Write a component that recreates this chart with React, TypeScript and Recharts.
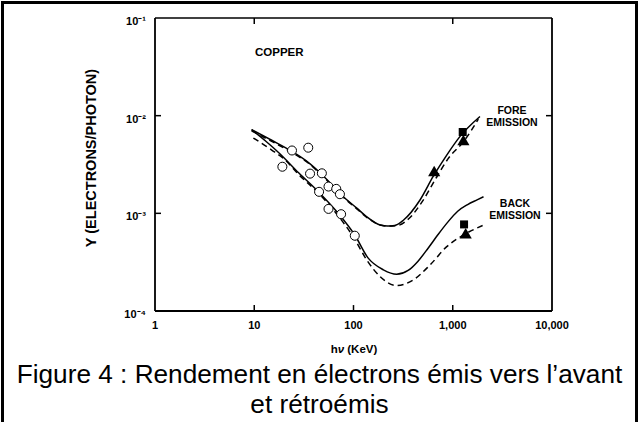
import React from 'react'
import { ComposedChart, Line, Scatter, XAxis, YAxis, ReferenceLine } from 'recharts'

const xTicks = [1, 10, 100, 1000, 10000]
const xTickLabels = ['1', '10', '100', '1,000', '10,000']
const yTicks = [1e-4, 1e-3, 1e-2, 1e-1]
const yTickLabels = ['10⁻⁴', '10⁻³', '10⁻²', '10⁻¹']
const innerXTicks = [10, 100, 1000]
const innerYTicks = [1e-3, 1e-2]
const topTickKeV = [10, 1000]

// fore emission, solid and dashed curves
const foreSolidKeV = [9.4, 15, 24, 36, 50, 79, 108, 136, 185, 220, 260, 318, 468, 637, 870, 1180, 1880]
const foreSolidY = [7.2e-3, 5.6e-3, 4.3e-3, 3.25e-3, 2.4e-3, 1.48e-3, 1.13e-3, 9.2e-4, 7.6e-4, 7.4e-4, 7.5e-4, 8.5e-4, 1.37e-3, 2.4e-3, 3.95e-3, 6.1e-3, 9.8e-3]
const foreDashKeV = [9.4, 15, 24, 36, 50, 79, 108, 136, 185, 230, 290, 360, 500, 680, 920, 1280, 1810]
const foreDashY = [7.0e-3, 5.45e-3, 4.2e-3, 3.2e-3, 2.35e-3, 1.46e-3, 1.11e-3, 9.1e-4, 7.6e-4, 7.4e-4, 7.6e-4, 8.8e-4, 1.35e-3, 2.3e-3, 3.75e-3, 5.4e-3, 9.2e-3]

// back emission, solid and dashed curves
const backSolidKeV = [9.4, 13, 18, 28, 46, 68, 103, 140, 200, 272, 355, 447, 562, 708, 891, 1122, 1413, 1778, 2042]
const backSolidY = [7.2e-3, 5.5e-3, 4.1e-3, 2.6e-3, 1.6e-3, 1.04e-3, 6.0e-4, 3.5e-4, 2.64e-4, 2.38e-4, 2.6e-4, 3.24e-4, 4.37e-4, 6.03e-4, 8.13e-4, 1.05e-3, 1.23e-3, 1.38e-3, 1.48e-3]
const backDashKeV = [9.8, 15, 20, 28, 46, 68, 100, 136, 185, 272, 400, 590, 870, 1280, 2000]
const backDashY = [5.9e-3, 4.45e-3, 3.6e-3, 2.5e-3, 1.55e-3, 9.8e-4, 5.7e-4, 3.33e-4, 2.25e-4, 1.82e-4, 2.08e-4, 2.96e-4, 4.56e-4, 6.0e-4, 7.5e-4]

// measured points
const circleKeV = [19.2, 24, 35, 36.5, 45, 48, 56, 56, 67, 73, 75, 103]
const circleY = [3.0e-3, 4.4e-3, 4.7e-3, 2.55e-3, 1.66e-3, 2.57e-3, 1.88e-3, 1.11e-3, 1.78e-3, 1.57e-3, 9.8e-4, 5.9e-4]
const squareKeV = [1260, 1300]
const squareY = [6.8e-3, 7.7e-4]
const triangleKeV = [650, 1280, 1350]
const triangleY = [2.6e-3, 5.4e-3, 6.0e-4]

const pts = (xs: number[], ys: number[]) => xs.map((x, i) => ({ x, y: ys[i] }))

const FONT = '"Liberation Sans", Arial, sans-serif'
const INK = 'black'
const TICK = 1.15 // inner tick length as a factor on the log axes, about 6px

const tickStyle = { fontFamily: FONT, fontWeight: 'bold', fontSize: 11, fill: INK }

export default function App() {
  return (
    <div style={{ position: 'absolute', left: 0, top: 0, width: 639, height: 422, background: '#fff' }}>
      <ComposedChart width={639} height={422} margin={{ top: 18, right: 87, bottom: 81, left: 115 }}>
        <XAxis dataKey="x" type="number" scale="log" domain={[1, 10000]} allowDataOverflow ticks={xTicks}
          height={30} tickLine={false} tickMargin={4} tick={tickStyle}
          tickFormatter={(v: number, i: number) => xTickLabels[i]}
          axisLine={{ stroke: INK, strokeWidth: 1.8 }} />
        <YAxis dataKey="y" type="number" scale="log" domain={[1e-4, 1e-1]} allowDataOverflow ticks={yTicks}
          width={40} tickLine={false} tickMargin={3} tick={{ ...tickStyle, dy: 3 }}
          tickFormatter={(v: number, i: number) => yTickLabels[i]}
          axisLine={{ stroke: INK, strokeWidth: 1.8 }} />
        <ReferenceLine y={1e-1} stroke={INK} strokeWidth={1.5} />
        <ReferenceLine x={10000} stroke={INK} strokeWidth={1.8} />
        {innerXTicks.map(k => (
          <ReferenceLine key={'b' + k} segment={[{ x: k, y: 1e-4 }, { x: k, y: 1e-4 * TICK }]} stroke={INK} strokeWidth={1.5} />
        ))}
        {topTickKeV.map(k => (
          <ReferenceLine key={'t' + k} segment={[{ x: k, y: 1e-1 }, { x: k, y: 1e-1 / TICK }]} stroke={INK} strokeWidth={1.5} />
        ))}
        {innerYTicks.map(v => (
          <ReferenceLine key={'l' + v} segment={[{ x: 1, y: v }, { x: TICK, y: v }]} stroke={INK} strokeWidth={1.5} />
        ))}
        {innerYTicks.map(v => (
          <ReferenceLine key={'r' + v} segment={[{ x: 10000, y: v }, { x: 10000 / TICK, y: v }]} stroke={INK} strokeWidth={1.5} />
        ))}
        <Line data={pts(foreSolidKeV, foreSolidY)} dataKey="y" type="monotone" stroke={INK} strokeWidth={1.5} dot={false} isAnimationActive={false} />
        <Line data={pts(foreDashKeV, foreDashY)} dataKey="y" type="monotone" stroke={INK} strokeWidth={1.5} strokeDasharray="6 4" dot={false} isAnimationActive={false} />
        <Line data={pts(backSolidKeV, backSolidY)} dataKey="y" type="monotone" stroke={INK} strokeWidth={1.5} dot={false} isAnimationActive={false} />
        <Line data={pts(backDashKeV, backDashY)} dataKey="y" type="monotone" stroke={INK} strokeWidth={1.5} strokeDasharray="6 4" dot={false} isAnimationActive={false} />
        <Scatter data={pts(circleKeV, circleY)} shape="circle" size={30} fill="#fff" stroke={INK} strokeWidth={1} isAnimationActive={false} />
        <Scatter data={pts(squareKeV, squareY)} shape="square" size={50} fill={INK} isAnimationActive={false} />
        <Scatter data={pts(triangleKeV, triangleY)} shape="triangle" size={40} fill={INK} isAnimationActive={false} />
      </ComposedChart>
      <svg width={639} height={422} style={{ position: 'absolute', left: 0, top: 0, pointerEvents: 'none' }}>
        <g fontFamily={FONT} fontWeight="bold" fill={INK}>
          <text x={255} y={56} fontSize={11.5}>COPPER</text>
          <text x={512} y={114} fontSize={10.5} textAnchor="middle">FORE</text>
          <text x={512} y={126} fontSize={10.5} textAnchor="middle">EMISSION</text>
          <text x={515} y={207} fontSize={10.5} textAnchor="middle">BACK</text>
          <text x={515} y={218.5} fontSize={10.5} textAnchor="middle">EMISSION</text>
          <text x={91} y={158} fontSize={14.5} textAnchor="middle" dominantBaseline="central" transform="rotate(-90 91 158)">
            Y (ELECTRONS/PHOTON)
          </text>
          <text x={354} y={353} fontSize={11.5} textAnchor="middle">
            h<tspan fontStyle="italic">ν</tspan> (KeV)
          </text>
        </g>
        <g fontFamily={FONT} fontSize={26.2} fill={INK} textAnchor="middle">
          <text x={319.5} y={383}>Figure 4 : Rendement en électrons émis vers l’avant</text>
          <text x={319.5} y={413}>et rétroémis</text>
        </g>
      </svg>
      <div style={{ position: 'absolute', left: 1, top: 1, width: 631, height: 421, borderLeft: '3px solid #000', borderTop: '3px solid #000', borderRight: '3px solid #000', pointerEvents: 'none' }} />
    </div>
  )
}
